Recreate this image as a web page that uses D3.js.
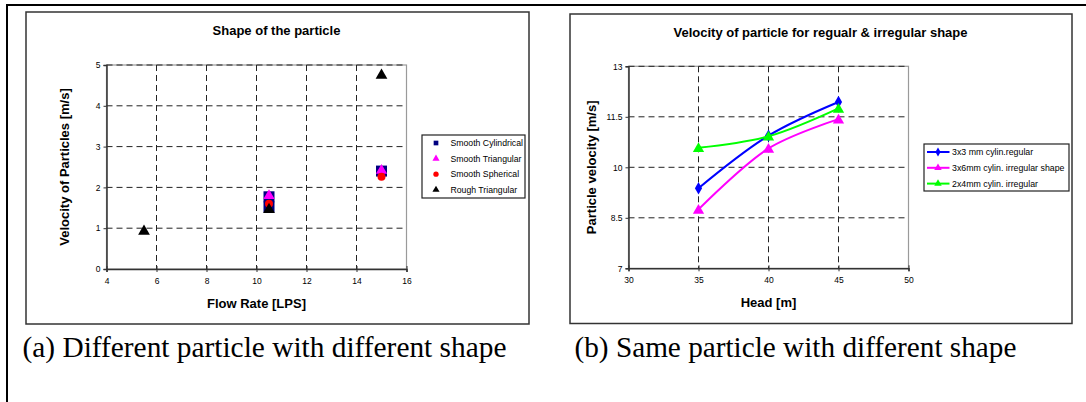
<!DOCTYPE html>
<html>
<head>
<meta charset="utf-8">
<script src="https://cdn.jsdelivr.net/npm/d3@7"></script>
<style>
  body { margin: 0; background: #fff; }
  svg { display: block; }
  text { font-family: "Liberation Sans", Arial, sans-serif; fill: #000; }
  .tick text { font-size: 8.5px; }
  .axis-label { font-size: 13px; font-weight: bold; }
  .title { font-size: 13px; font-weight: bold; }
  .legend-a text { font-size: 8.7px; }
  .legend-b text { font-size: 8.8px; }
  .caption { font-family: "Liberation Serif", "DejaVu Serif", serif; }
</style>
</head>
<body>
<svg id="fig" width="1086" height="402"></svg>
<script>
// ---- data: chart (a) ----
const shapeNames = ['Smooth Cylindrical', 'Smooth Triangular', 'Smooth Spherical', 'Rough Triangular'];
const smoothCyl = [[10.5, 1.52], [10.5, 1.77], [15, 2.4]];
const smoothTri = [[10.5, 1.82], [15, 2.44]];
const smoothSph = [[10.5, 1.6], [15, 2.26]];
const roughTri = [[5.5, 0.95], [10.5, 1.48], [15, 4.77]];
const flowTicks = [4, 6, 8, 10, 12, 14, 16];
const velTicks = [0, 1, 2, 3, 4, 5];

// ---- data: chart (b) ----
const headNames = ['3x3 mm cylin.regular', '3x6mm cylin. irregular shape', '2x4mm cylin. irregular'];
const headX = [35, 40, 45];
const regular33 = [9.38, 10.94, 11.94];
const irregular36 = [8.75, 10.56, 11.43];
const irregular24 = [10.58, 10.92, 11.75];
const headTicks = [30, 35, 40, 45, 50];
const pvTicks = [7, 8.5, 10, 11.5, 13];

const svg = d3.select('#fig');

// outer frame (top + left)
svg.append('path')
  .attr('d', 'M7,402 V5 H1086')
  .attr('fill', 'none')
  .attr('stroke', '#000')
  .attr('stroke-width', 2);

const chartBox = (x, y, w, h) => {
  svg.append('rect')
    .attr('x', x).attr('y', y).attr('width', w).attr('height', h)
    .attr('fill', '#fff')
    .attr('stroke', '#333')
    .attr('stroke-width', 1.5);
};

const gridAndAxes = (g, xScale, yScale, xTicks, yTicks, innerWidth, innerHeight) => {
  // plot area border
  g.append('rect')
    .attr('width', innerWidth).attr('height', innerHeight)
    .attr('fill', 'none')
    .attr('stroke', '#9a9a9a')
    .attr('stroke-width', 1.2);

  g.selectAll('.hgrid').data(yTicks.slice(1)).enter().append('line')
    .attr('class', 'hgrid')
    .attr('x1', 0).attr('x2', innerWidth)
    .attr('y1', d => yScale(d)).attr('y2', d => yScale(d))
    .attr('stroke', '#222').attr('stroke-width', 1)
    .attr('stroke-dasharray', '6,4');

  g.selectAll('.vgrid').data(xTicks.slice(1, -1)).enter().append('line')
    .attr('class', 'vgrid')
    .attr('y1', 0).attr('y2', innerHeight)
    .attr('x1', d => xScale(d)).attr('x2', d => xScale(d))
    .attr('stroke', '#222').attr('stroke-width', 1)
    .attr('stroke-dasharray', '6,4');

  const fmt = d3.format('~g');

  const yAxis = d3.axisLeft(yScale).tickValues(yTicks).tickFormat(fmt).tickSize(3).tickPadding(3);
  const yAxisG = g.append('g').attr('class', 'yAxis').call(yAxis);
  yAxisG.select('.domain').attr('stroke', '#333').attr('stroke-width', 1.5);
  yAxisG.selectAll('.tick line').attr('stroke', '#333').attr('x2', -3).attr('x1', 0);

  const xAxis = d3.axisBottom(xScale).tickValues(xTicks).tickFormat(fmt).tickSize(3).tickPadding(6);
  const xAxisG = g.append('g').attr('class', 'xAxis')
    .attr('transform', `translate(0,${innerHeight})`).call(xAxis);
  xAxisG.select('.domain').attr('stroke', '#333').attr('stroke-width', 1.5);
  xAxisG.selectAll('.tick line').attr('stroke', '#333').attr('y1', -3).attr('y2', 3);
  return { yAxisG, xAxisG };
};

const markerPath = (type, size) => {
  const types = {
    square: d3.symbolSquare,
    circle: d3.symbolCircle,
    diamond: d3.symbolDiamond,
    triangle: d3.symbolTriangle
  };
  return d3.symbol().type(types[type]).size(size)();
};

// ---------------- chart (a) ----------------
const scatterPlot = (selection, props) => {
  const { margin, innerWidth, innerHeight, series } = props;
  const g = selection.append('g')
    .attr('transform', `translate(${margin.left},${margin.top})`);

  const xScale = d3.scaleLinear().domain([4, 16]).range([0, innerWidth]);
  const yScale = d3.scaleLinear().domain([0, 5]).range([innerHeight, 0]);

  gridAndAxes(g, xScale, yScale, flowTicks, velTicks, innerWidth, innerHeight);

  series.forEach(s => {
    g.selectAll(null).data(s.values).enter().append('path')
      .attr('d', markerPath(s.shape, s.size))
      .attr('transform', d => `translate(${xScale(d[0])},${yScale(d[1]) + (s.shape === 'triangle' ? 1 : 0)})`)
      .attr('fill', s.color);
  });

  g.append('text').attr('class', 'title')
    .attr('x', innerWidth / 2 + 20).attr('y', -30)
    .attr('text-anchor', 'middle')
    .text('Shape of the particle');

  g.append('text').attr('class', 'axis-label')
    .attr('x', innerWidth / 2).attr('y', innerHeight + 39)
    .attr('text-anchor', 'middle')
    .text('Flow Rate [LPS]');

  g.append('text').attr('class', 'axis-label')
    .attr('transform', 'rotate(270)')
    .attr('x', -innerHeight / 2).attr('y', -38)
    .attr('text-anchor', 'middle')
    .text('Velocity of Particles [m/s]');
};

chartBox(26, 12, 503, 312);
scatterPlot(svg, {
  margin: { left: 106.5, top: 65 },
  innerWidth: 300,
  innerHeight: 204,
  series: [
    { name: shapeNames[0], values: smoothCyl, shape: 'square', color: '#000080', size: 121 },
    { name: shapeNames[1], values: smoothTri, shape: 'triangle', color: '#ff00ff', size: 55 },
    { name: shapeNames[2], values: smoothSph, shape: 'circle', color: '#ff0000', size: 50 },
    { name: shapeNames[3], values: roughTri, shape: 'triangle', color: '#000000', size: 60 }
  ]
});

// legend (a)
const legA = svg.append('g').attr('class', 'legend-a').attr('transform', 'translate(422,135)');
legA.append('rect').attr('width', 103).attr('height', 63)
  .attr('fill', '#fff').attr('stroke', '#222').attr('stroke-width', 1.2);
const legAShapes = ['square', 'triangle', 'circle', 'triangle'];
const legAColors = ['#000080', '#ff00ff', '#ff0000', '#000000'];
shapeNames.forEach((name, i) => {
  const y = 8 + i * 15.6;
  legA.append('path')
    .attr('d', markerPath(legAShapes[i], 22))
    .attr('transform', `translate(14,${y})`)
    .attr('fill', legAColors[i]);
  legA.append('text').attr('x', 28.5).attr('y', y + 3.2).text(name);
});

// ---------------- chart (b) ----------------
const linePlot = (selection, props) => {
  const { margin, innerWidth, innerHeight, series } = props;
  const g = selection.append('g')
    .attr('transform', `translate(${margin.left},${margin.top})`);

  const xScale = d3.scaleLinear().domain([30, 50]).range([0, innerWidth]);
  const yScale = d3.scaleLinear().domain([7, 13]).range([innerHeight, 0]);

  gridAndAxes(g, xScale, yScale, headTicks, pvTicks, innerWidth, innerHeight);

  const lineGenerator = d3.line()
    .x(d => xScale(d[0]))
    .y(d => yScale(d[1]))
    .curve(d3.curveCatmullRom.alpha(0.5));

  series.forEach(s => {
    const pts = headX.map((x, i) => [x, s.values[i]]);
    g.append('path')
      .attr('d', lineGenerator(pts))
      .attr('fill', 'none')
      .attr('stroke', s.color)
      .attr('stroke-width', 2);
    g.selectAll(null).data(pts).enter().append('path')
      .attr('d', markerPath(s.shape, s.size))
      .attr('transform', d => `translate(${xScale(d[0])},${yScale(d[1]) + (s.shape === 'triangle' ? 1 : 0)})`)
      .attr('fill', s.color);
  });

  g.append('text').attr('class', 'title')
    .attr('x', innerWidth / 2 + 52).attr('y', -29)
    .attr('text-anchor', 'middle')
    .text('Velocity of particle for regualr & irregular shape');

  g.append('text').attr('class', 'axis-label')
    .attr('x', innerWidth / 2).attr('y', innerHeight + 39)
    .attr('text-anchor', 'middle')
    .text('Head [m]');

  g.append('text').attr('class', 'axis-label')
    .attr('transform', 'rotate(270)')
    .attr('x', -innerHeight / 2).attr('y', -33)
    .attr('text-anchor', 'middle')
    .text('Particle velocity [m/s]');
};

const seriesB = [
  { name: headNames[0], values: regular33, shape: 'diamond', color: '#0000ff', size: 45 },
  { name: headNames[1], values: irregular36, shape: 'triangle', color: '#ff00ff', size: 55 },
  { name: headNames[2], values: irregular24, shape: 'triangle', color: '#00ff00', size: 55 }
];

chartBox(570, 14, 502, 309.5);
linePlot(svg, {
  margin: { left: 628.5, top: 66.3 },
  innerWidth: 280,
  innerHeight: 202,
  series: seriesB
});

// legend (b)
const legB = svg.append('g').attr('class', 'legend-b').attr('transform', 'translate(924,144)');
legB.append('rect').attr('width', 145).attr('height', 47)
  .attr('fill', '#fff').attr('stroke', '#222').attr('stroke-width', 1.2);
seriesB.forEach((s, i) => {
  const y = 8 + i * 15.8;
  legB.append('line').attr('x1', 3).attr('x2', 25.5).attr('y1', y).attr('y2', y)
    .attr('stroke', s.color).attr('stroke-width', 2);
  legB.append('path')
    .attr('d', markerPath(s.shape, 24))
    .attr('transform', `translate(14,${y})`)
    .attr('fill', s.color);
  legB.append('text').attr('x', 28).attr('y', y + 3.2).text(s.name);
});

// captions
const captions = [
  { text: '(a) Different particle with different shape', x: 22.5, w: 484 },
  { text: '(b) Same particle with different shape', x: 574.5, w: 442 }
];
captions.forEach(c => {
  const t = svg.append('text').attr('class', 'caption')
    .attr('x', c.x).attr('y', 357)
    .style('font-size', '22px')
    .text(c.text);
  const len = t.node().getComputedTextLength();
  t.style('font-size', (22 * c.w / len).toFixed(2) + 'px');
});
</script>
</body>
</html>
